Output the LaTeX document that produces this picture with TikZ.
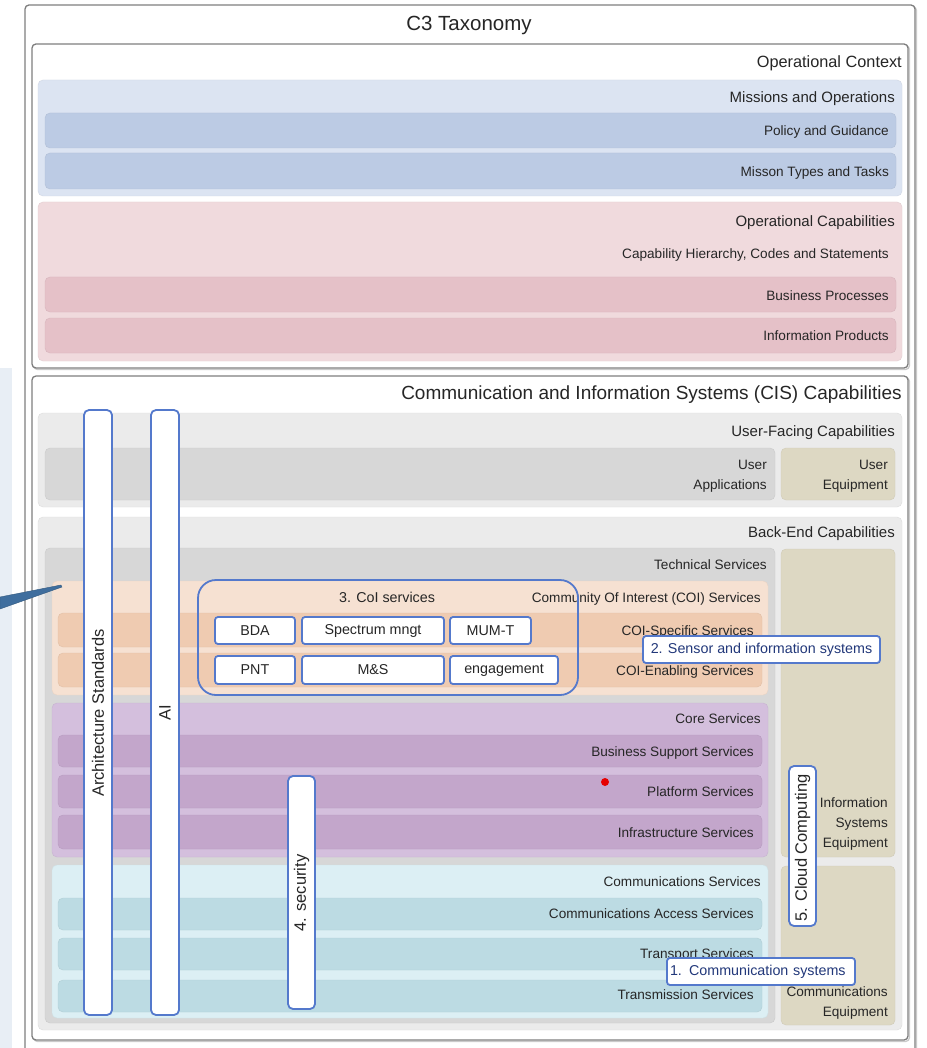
\documentclass[tikz,border=0pt]{standalone}
\usepackage{fontspec}
\setmainfont{Liberation Sans}
\definecolor{frame}{HTML}{7E7E7E}
\definecolor{frameshade}{HTML}{CACACA}
\definecolor{ink}{HTML}{262626}
\definecolor{accent}{HTML}{5479CC}
\definecolor{navy}{HTML}{22387A}
\definecolor{missionbg}{HTML}{DCE4F2}
\definecolor{missionbar}{HTML}{BCCBE4}
\definecolor{capbg}{HTML}{F0DADD}
\definecolor{capbar}{HTML}{E5C1C8}
\definecolor{greybg}{HTML}{EBEBEB}
\definecolor{greybar}{HTML}{D7D7D7}
\definecolor{tanbox}{HTML}{DDD8C3}
\definecolor{coibg}{HTML}{F6E1D2}
\definecolor{coibar}{HTML}{EFCBB1}
\definecolor{corebg}{HTML}{D4BFDD}
\definecolor{corebar}{HTML}{C3A6CB}
\definecolor{commbg}{HTML}{DCEFF4}
\definecolor{commbar}{HTML}{BCDBE3}
\definecolor{sidebg}{HTML}{E8EEF5}
\definecolor{tailblue}{HTML}{3F6E9E}
\newcommand{\fsz}[2]{\fontsize{#1}{#2}\selectfont}
\tikzset{
  frame/.style={draw=frame, line width=1.3pt, rounded corners=4pt},
  shade/.style={draw=frameshade, line width=1.3pt, rounded corners=4pt},
  panel/.style={rounded corners=5pt, draw=#1!94!black, line width=0.4pt, fill=#1},
  lbl/.style={anchor=mid east, inner sep=0pt, yshift=-3pt, text=ink, font=\fsz{13.6}{19.5}},
  biglbl/.style={lbl, font=\fsz{15}{18}},
  multi/.style={anchor=east, inner sep=0pt, yshift=-2pt, text=ink, align=right, font=\fsz{13.6}{19.8}},
  cell/.style={draw=accent, line width=1.8pt, fill=white, rounded corners=3pt,
    inner sep=0pt, text=ink, font=\fsz{14.3}{16}},
  vbar/.style={draw=accent, line width=1.8pt, fill=white, rounded corners=5pt, inner sep=0pt},
  vlbl/.style={rotate=90, inner sep=0pt, text=ink, font=\fsz{16.5}{18}},
}
\begin{document}
\begin{tikzpicture}[x=1pt,y=-1pt]
\useasboundingbox (0,0) rectangle (926,1048);
\fill[white] (0,0) rectangle (926,1048);
\fill[sidebg] (0,368) rectangle (12,1048);

% outer frame and the two main sections
\draw[shade] (26.5,6.5) rectangle (916.5,1058);
\draw[frame, fill=white] (25,5) rectangle (915,1056);
\node[inner sep=0pt, anchor=mid, yshift=-3pt, text=ink, font=\fsz{20.5}{24}] (title) at (469,25) {C3 Taxonomy};

\draw[shade] (33.5,45.5) rectangle (909.5,369.5);
\draw[frame, fill=white] (32,44) rectangle (908,368);
\node[lbl, font=\fsz{16.3}{19}] (opctx) at (902,62) {Operational Context};

\draw[shade] (33.5,377.5) rectangle (909.5,1041.5);
\draw[frame, fill=white] (32,376) rectangle (908,1040);
\node[lbl, font=\fsz{19}{22}] (cis) at (902,394) {Communication and Information Systems (CIS) Capabilities};

% operational context
\path[panel=missionbg] (38,80) rectangle (902,196);
\path[panel=missionbar] (45,113) rectangle (896,148);
\path[panel=missionbar] (45,153) rectangle (896,189);
\node[biglbl] (missions) at (895,97) {Missions and Operations};
\node[lbl] (policy) at (889,130) {Policy and Guidance};
\node[lbl] (mtypes) at (889,171) {Misson Types and Tasks};

\path[panel=capbg] (38,202) rectangle (902,361);
\path[panel=capbar] (45,277) rectangle (896,312);
\path[panel=capbar] (45,318) rectangle (896,353);
\node[biglbl] (opcap) at (895,221) {Operational Capabilities};
\node[lbl] (caphier) at (889,253) {Capability Hierarchy, Codes and Statements};
\node[lbl] (bproc) at (889,295) {Business Processes};
\node[lbl] (iprod) at (889,335) {Information Products};

% user-facing capabilities
\path[panel=greybg] (38,413) rectangle (902,507);
\path[panel=greybar] (45,448) rectangle (775,500);
\path[panel=tanbox] (781,448) rectangle (895,500);
\node[biglbl] (userfacing) at (895,431) {User-Facing Capabilities};
\node[multi] (userapps) at (767,474) {User\\Applications};
\node[multi] (userequip) at (888,474) {User\\Equipment};

% back-end capabilities
\path[panel=greybg] (38,517) rectangle (902,1030);
\node[biglbl] (backend) at (895,532) {Back-End Capabilities};
\path[panel=greybar] (45,548) rectangle (775,1023);
\node[lbl] (techsvc) at (767,564) {Technical Services};

\path[panel=coibg] (52,581) rectangle (768,695);
\path[panel=coibar] (58,613) rectangle (762,647);
\path[panel=coibar] (58,653) rectangle (762,687);
\node[lbl] (coisvc) at (761,597) {Community Of Interest (COI) Services};
\node[lbl] (coispec) at (754,630) {COI-Specific Services};
\node[lbl] (coienab) at (754,670) {COI-Enabling Services};

\path[panel=corebg] (52,703) rectangle (768,857);
\path[panel=corebar] (58,735) rectangle (762,767);
\path[panel=corebar] (58,775) rectangle (762,808);
\path[panel=corebar] (58,815) rectangle (762,849);
\node[lbl] (coresvc) at (761,718) {Core Services};
\node[lbl] (bsupport) at (754,751) {Business Support Services};
\node[lbl] (platform) at (754,791) {Platform Services};
\node[lbl] (infra) at (754,832) {Infrastructure Services};

\path[panel=commbg] (52,865) rectangle (768,1018);
\path[panel=commbar] (58,898) rectangle (762,930);
\path[panel=commbar] (58,938) rectangle (762,970);
\path[panel=commbar] (58,980) rectangle (762,1012);
\node[lbl] (commsvc) at (761,881) {Communications Services};
\node[lbl] (access) at (754,913) {Communications Access Services};
\node[lbl] (transport) at (754,953) {Transport Services};
\node[lbl] (transmission) at (754,994) {Transmission Services};

\path[panel=tanbox] (781,549) rectangle (895,857);
\path[panel=tanbox] (781,866) rectangle (895,1025);
\node[multi] (isequip) at (888,822) {Information\\Systems\\Equipment};
\node[multi] (commequip) at (888,1001) {Communications\\Equipment};

% cross-cutting columns
\node[vbar, minimum width=28pt, minimum height=605pt] (archbar) at (98,712.5) {};
\node[vlbl] (archlbl) at (98,713) {Architecture Standards};
\node[vbar, minimum width=28pt, minimum height=605pt] (aibar) at (165,712.5) {};
\node[vlbl] (ailbl) at (165,713) {AI};
\node[vbar, minimum width=27pt, minimum height=233pt] (secbar) at (301.5,892.5) {};
\node[vlbl] (seclbl) at (301.5,893) {4. security};
\node[vbar, minimum width=27pt, minimum height=160pt] (cloudbar) at (802.5,846) {};
\node[vlbl] (cloudlbl) at (802.5,848) {5. Cloud Computing};

% community of interest group
\node[draw=accent, line width=1.8pt, rounded corners=18pt, inner sep=0pt,
  minimum width=380pt, minimum height=115pt] (coigroup) at (388,637.5) {};
\node[inner sep=0pt, anchor=mid, yshift=-3pt, text=ink, font=\fsz{14.3}{16}] (coilbl) at (387,597) {3. CoI services};
\node[cell, minimum width=80pt, minimum height=27pt] (bda) at (255,630.5) {BDA};
\node[cell, minimum width=142pt, minimum height=27pt] (spectrum) at (373,630.5) {Spectrum mngt};
\node[cell, minimum width=81pt, minimum height=27pt] (mumt) at (490.5,630.5) {MUM-T};
\node[cell, minimum width=80pt, minimum height=28pt] (pnt) at (255,670) {PNT};
\node[cell, minimum width=142pt, minimum height=28pt] (mands) at (373,670) {M\&S};
\node[cell, minimum width=108pt, minimum height=28pt] (engage) at (504,670) {engagement};

% system callouts
\node[cell, text=navy, minimum width=237pt, minimum height=27pt] (sensor) at (761.5,649.5) {2. Sensor and information systems};
\node[cell, text=navy, minimum width=188pt, minimum height=27pt, align=left,
  text width=182pt] (commsys) at (761,971.5) {1. Communication systems};

% marker and callout tail
\fill[red!90!black] (605,782) circle (4pt);
\coordinate (tailtip) at (62,587);
\fill[tailblue, draw=tailblue!80!black, line width=0.4pt]
  (0,597) -- (61,585) -- (tailtip) -- (0,609) -- cycle;
\end{tikzpicture}
\end{document}
